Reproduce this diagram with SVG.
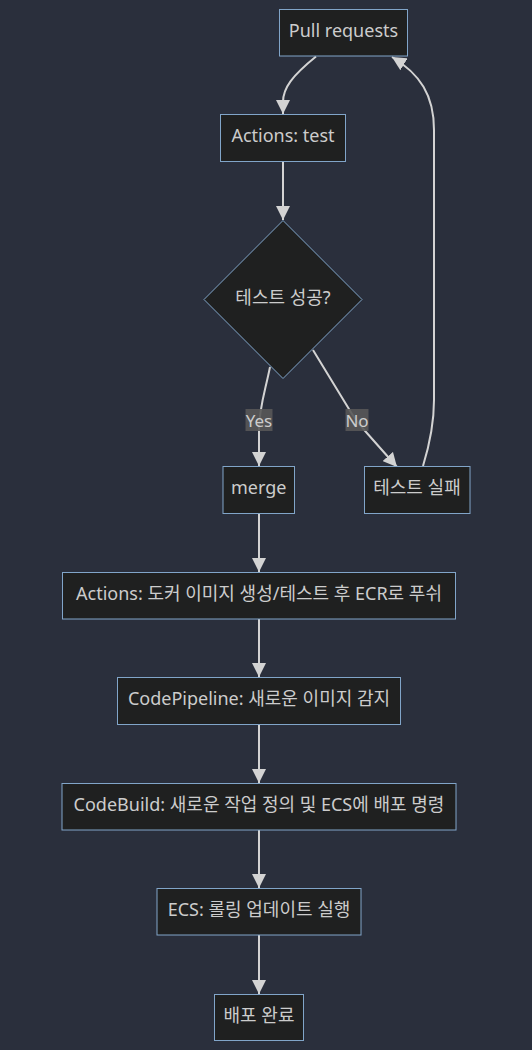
<svg xmlns="http://www.w3.org/2000/svg" width="532" height="1050" viewBox="0 0 532 1050">
<style>
.bg{fill:#2a2f3c}
.node rect,.node polygon{fill:#1f2020;stroke:#81a5c9;stroke-width:1}
.node text{fill:#cccccc;font-family:"Noto Sans","DejaVu Sans","Noto Sans CJK KR",sans-serif;font-size:18px;text-anchor:middle;dominant-baseline:central}
.edge{fill:none;stroke:#d3d3d3;stroke-width:2}
.lbl rect{fill:#585858;opacity:0.9}
.lbl text{fill:#cccccc;font-family:"Noto Sans","DejaVu Sans",sans-serif;font-size:17px;text-anchor:middle;dominant-baseline:central}
</style>
<defs>
<marker id="arr" viewBox="0 0 10 10" refX="10" refY="5" markerUnits="userSpaceOnUse" markerWidth="14" markerHeight="14" orient="auto">
<path d="M0,0 L10,5 L0,10 z" fill="#d3d3d3"/>
</marker>
</defs>
<rect class="bg" x="0" y="0" width="532" height="1050"/>
<g id="edges">
<path class="edge" d="M316,56.5 C292,76 283,88 283,102 L283,114" marker-end="url(#arr)"/>
<path class="edge" d="M283,161.5 L283,220" marker-end="url(#arr)"/>
<path class="edge" d="M270,367 C265,392 259,408 259,430 L259,466" marker-end="url(#arr)"/>
<path class="edge" d="M313,350 L352,414 Q358,424 366,432 L397,467" marker-end="url(#arr)"/>
<path class="edge" d="M423,466 C431,440 434,420 434,400 L434,130 C434,95 420,74 392,57" marker-end="url(#arr)"/>
<path class="edge" d="M259,513.5 L259,572" marker-end="url(#arr)"/>
<path class="edge" d="M259,619 L259,677" marker-end="url(#arr)"/>
<path class="edge" d="M259,724.5 L259,783" marker-end="url(#arr)"/>
<path class="edge" d="M259,830 L259,888" marker-end="url(#arr)"/>
<path class="edge" d="M259,935 L259,994" marker-end="url(#arr)"/>
<g class="lbl"><rect x="245.5" y="409" width="27" height="22"/><text x="259" y="420">Yes</text></g>
<g class="lbl"><rect x="345.5" y="409" width="23" height="22"/><text x="357" y="420">No</text></g>
</g>
<g id="n-pr" class="node"><rect x="279.5" y="9.5" width="128" height="46.5"/><text x="343.5" y="29.5">Pull requests</text></g>
<g id="n-test" class="node"><rect x="220.5" y="114.5" width="125" height="47"/><text x="283" y="135">Actions: test</text></g>
<g id="n-dec" class="node"><polygon points="283,220.5 362,299.5 283,378.5 204,299.5"/><text x="283" y="297">테스트 성공?</text></g>
<g id="n-merge" class="node"><rect x="223" y="466.5" width="71.5" height="47"/><text x="258.7" y="487">merge</text></g>
<g id="n-fail" class="node"><rect x="364.5" y="466.5" width="105.5" height="47"/><text x="417" y="487">테스트 실패</text></g>
<g id="n-push" class="node"><rect x="62.5" y="572.5" width="393" height="46.5"/><text x="259" y="592.5">Actions: 도커 이미지 생성/테스트 후 ECR로 푸쉬</text></g>
<g id="n-cp" class="node"><rect x="117.5" y="677.5" width="283" height="47"/><text x="259" y="698">CodePipeline: 새로운 이미지 감지</text></g>
<g id="n-cb" class="node"><rect x="62" y="783.5" width="394" height="46.5"/><text x="259" y="803.5">CodeBuild: 새로운 작업 정의 및 ECS에 배포 명령</text></g>
<g id="n-ecs" class="node"><rect x="157" y="888.5" width="204" height="46.5"/><text x="259" y="908.5">ECS: 롤링 업데이트 실행</text></g>
<g id="n-done" class="node"><rect x="214.5" y="994.5" width="89" height="46"/><text x="259" y="1014.5">배포 완료</text></g>
</svg>
